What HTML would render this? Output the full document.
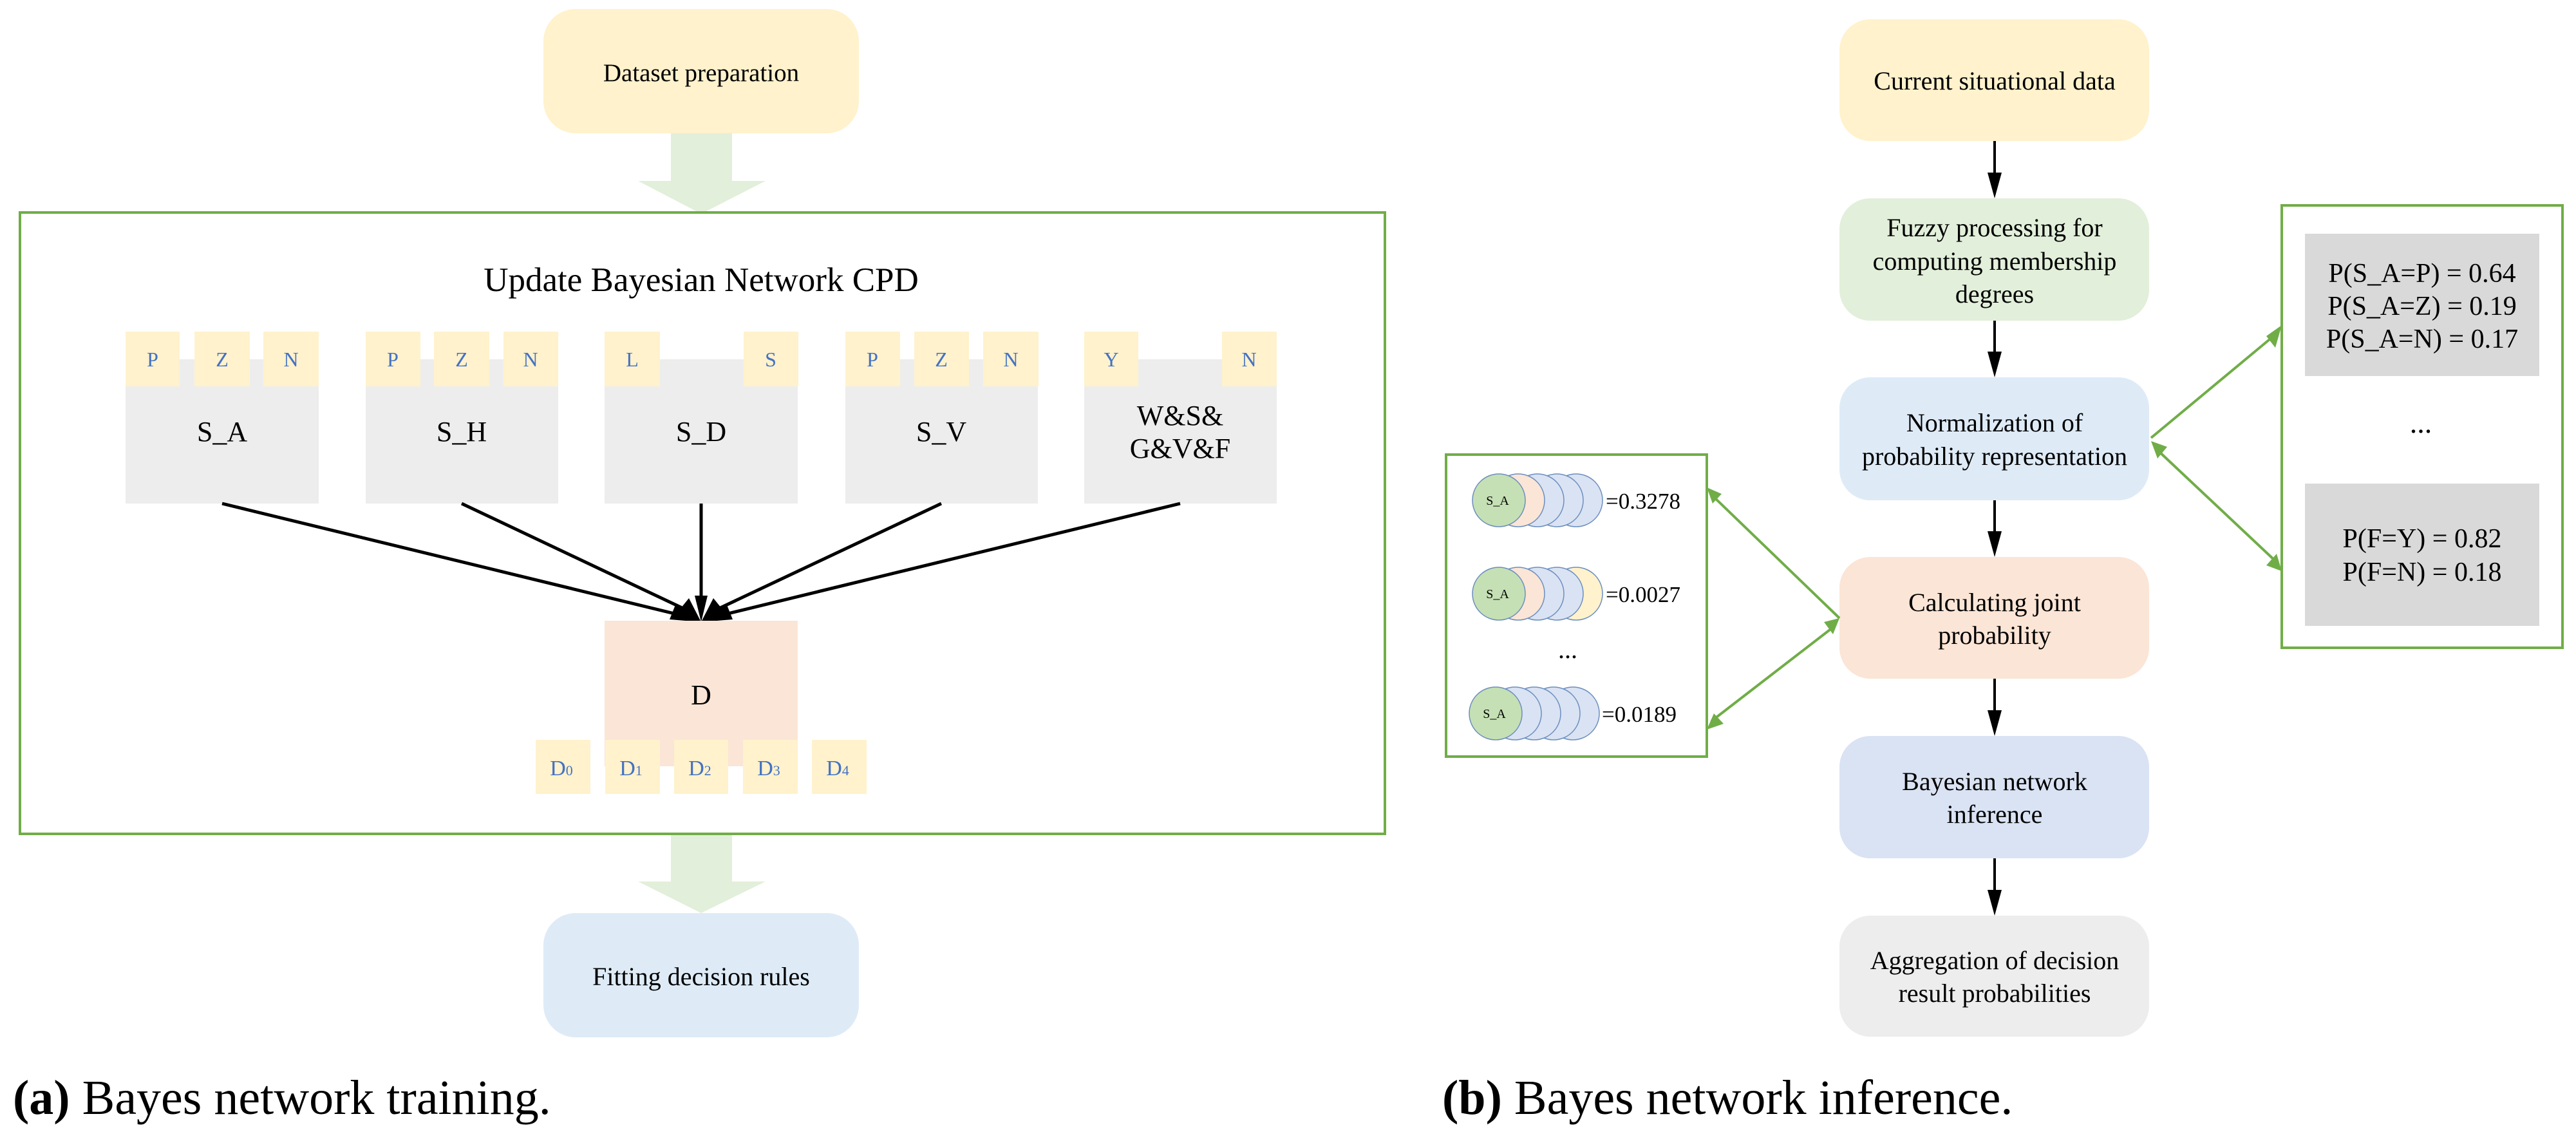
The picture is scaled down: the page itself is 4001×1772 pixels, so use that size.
<!DOCTYPE html>
<html><head><meta charset="utf-8"><style>
html,body{margin:0;padding:0;background:#fff;}
svg{display:block;}
text{font-family:"Liberation Serif",serif;}
</style></head><body>
<svg width="4001" height="1772" viewBox="0 0 4001 1772" xmlns="http://www.w3.org/2000/svg" font-family="Liberation Serif, serif">
<!-- PART A -->
<rect x="844" y="14" width="490" height="193" rx="50" fill="#fff2cc"/>
<text x="1089" y="126" font-size="39" text-anchor="middle">Dataset preparation</text>
<polygon points="1042,207 1137,207 1137,281 1189,281 1089,332 991,281 1042,281" fill="#e2efda"/>
<rect x="31" y="330" width="2120" height="965" fill="none" stroke="#70ad47" stroke-width="4"/>
<text x="1089" y="452" font-size="53" text-anchor="middle">Update Bayesian Network CPD</text>

<g font-size="32" fill="#4472c4" text-anchor="middle">
<rect x="195" y="558" width="300" height="224" fill="#ededed"/>
<rect x="195" y="515" width="84" height="85" fill="#fff2cc"/><text x="237" y="569">P</text>
<rect x="302" y="515" width="86" height="85" fill="#fff2cc"/><text x="345" y="569">Z</text>
<rect x="409" y="515" width="86" height="85" fill="#fff2cc"/><text x="452" y="569">N</text>
<rect x="568" y="558" width="299" height="224" fill="#ededed"/>
<rect x="568" y="515" width="85" height="85" fill="#fff2cc"/><text x="610" y="569">P</text>
<rect x="674" y="515" width="86" height="85" fill="#fff2cc"/><text x="717" y="569">Z</text>
<rect x="782" y="515" width="85" height="85" fill="#fff2cc"/><text x="824" y="569">N</text>
<rect x="939" y="558" width="300" height="224" fill="#ededed"/>
<rect x="939" y="515" width="86" height="85" fill="#fff2cc"/><text x="982" y="569">L</text>
<rect x="1155" y="515" width="85" height="85" fill="#fff2cc"/><text x="1197" y="569">S</text>
<rect x="1313" y="558" width="299" height="224" fill="#ededed"/>
<rect x="1313" y="515" width="85" height="85" fill="#fff2cc"/><text x="1355" y="569">P</text>
<rect x="1420" y="515" width="85" height="85" fill="#fff2cc"/><text x="1462" y="569">Z</text>
<rect x="1527" y="515" width="86" height="85" fill="#fff2cc"/><text x="1570" y="569">N</text>
<rect x="1684" y="558" width="299" height="224" fill="#ededed"/>
<rect x="1684" y="515" width="84" height="85" fill="#fff2cc"/><text x="1726" y="569">Y</text>
<rect x="1898" y="515" width="85" height="85" fill="#fff2cc"/><text x="1940" y="569">N</text>
</g>
<g font-size="44" text-anchor="middle">
<text x="345" y="685">S_A</text>
<text x="717" y="685">S_H</text>
<text x="1089" y="685">S_D</text>
<text x="1462" y="685">S_V</text>
<text x="1833" y="660">W&amp;S&amp;</text>
<text x="1833" y="711">G&amp;V&amp;F</text>
</g>
<g stroke="#000" stroke-width="5">
<line x1="345" y1="782" x2="1060" y2="956"/>
<line x1="717" y1="782" x2="1072" y2="950"/>
<line x1="1089" y1="782" x2="1089" y2="935"/>
<line x1="1462" y1="782" x2="1106" y2="950"/>
<line x1="1833" y1="782" x2="1118" y2="956"/>
</g>
<g fill="#000">
<polygon points="1089,966 1040,962 1050,937"/>
<polygon points="1089,966 1057,945 1070,929"/>
<polygon points="1089,966 1079,925 1099,925"/>
<polygon points="1089,966 1108,929 1121,945"/>
<polygon points="1089,966 1128,937 1138,962"/>
</g>
<rect x="939" y="964" width="300" height="226" fill="#fbe5d6"/>
<text x="1089" y="1094" font-size="44" text-anchor="middle">D</text>
<g font-size="34" fill="#4472c4" text-anchor="middle">
<rect x="832" y="1149" width="85" height="84" fill="#fff2cc"/><text x="872" y="1204">D<tspan font-size="22">0</tspan></text>
<rect x="940" y="1149" width="85" height="84" fill="#fff2cc"/><text x="980" y="1204">D<tspan font-size="22">1</tspan></text>
<rect x="1047" y="1149" width="84" height="84" fill="#fff2cc"/><text x="1087" y="1204">D<tspan font-size="22">2</tspan></text>
<rect x="1154" y="1149" width="85" height="84" fill="#fff2cc"/><text x="1194" y="1204">D<tspan font-size="22">3</tspan></text>
<rect x="1261" y="1149" width="85" height="84" fill="#fff2cc"/><text x="1301" y="1204">D<tspan font-size="22">4</tspan></text>
</g>
<polygon points="1042,1297 1137,1297 1137,1369 1189,1369 1089,1418 991,1369 1042,1369" fill="#e2efda"/>
<rect x="844" y="1418" width="490" height="193" rx="50" fill="#deebf7"/>
<text x="1089" y="1530" font-size="40" text-anchor="middle">Fitting decision rules</text>
<text x="20" y="1730" font-size="76"><tspan font-weight="bold">(a)</tspan> Bayes network training.</text>

<!-- PART B -->
<g font-size="40" text-anchor="middle">
<rect x="2857" y="30" width="481" height="189" rx="48" fill="#fff2cc"/>
<text x="3098" y="139">Current situational data</text>
<rect x="2857" y="308" width="481" height="190" rx="48" fill="#e2efda"/>
<text x="3098" y="367">Fuzzy processing for</text>
<text x="3098" y="419">computing membership</text>
<text x="3098" y="470">degrees</text>
<rect x="2857" y="586" width="481" height="191" rx="48" fill="#deebf7"/>
<text x="3098" y="670">Normalization of</text>
<text x="3098" y="722">probability representation</text>
<rect x="2857" y="865" width="481" height="189" rx="48" fill="#fbe5d6"/>
<text x="3098" y="949">Calculating joint</text>
<text x="3098" y="1000">probability</text>
<rect x="2857" y="1143" width="481" height="190" rx="48" fill="#dae3f3"/>
<text x="3098" y="1227">Bayesian network</text>
<text x="3098" y="1278">inference</text>
<rect x="2857" y="1422" width="481" height="188" rx="48" fill="#ededed"/>
<text x="3098" y="1505">Aggregation of decision</text>
<text x="3098" y="1556">result probabilities</text>
</g>
<g stroke="#000" stroke-width="4">
<line x1="3098" y1="219" x2="3098" y2="270"/>
<line x1="3098" y1="498" x2="3098" y2="548"/>
<line x1="3098" y1="777" x2="3098" y2="827"/>
<line x1="3098" y1="1054" x2="3098" y2="1105"/>
<line x1="3098" y1="1333" x2="3098" y2="1384"/>
</g>
<g fill="#000">
<polygon points="3087,268 3109,268 3098,308"/>
<polygon points="3087,546 3109,546 3098,586"/>
<polygon points="3087,825 3109,825 3098,865"/>
<polygon points="3087,1103 3109,1103 3098,1143"/>
<polygon points="3087,1382 3109,1382 3098,1422"/>
</g>
<rect x="3544" y="319" width="436" height="687" fill="none" stroke="#70ad47" stroke-width="4"/>
<rect x="3580" y="363" width="364" height="221" fill="#d9d9d9"/>
<rect x="3580" y="751" width="364" height="221" fill="#d9d9d9"/>
<g font-size="42" text-anchor="middle">
<text x="3762" y="438">P(S_A=P) = 0.64</text>
<text x="3762" y="489">P(S_A=Z) = 0.19</text>
<text x="3762" y="540">P(S_A=N) = 0.17</text>
<text x="3760" y="672" font-size="46">...</text>
<text x="3762" y="850">P(F=Y) = 0.82</text>
<text x="3762" y="902">P(F=N) = 0.18</text>
</g>
<rect x="2246" y="706" width="405" height="469" fill="none" stroke="#70ad47" stroke-width="4"/>
<g stroke="#6c8ebf" stroke-width="1.5">
<ellipse cx="2448" cy="777" rx="41" ry="41" fill="#dae3f3"/>
<ellipse cx="2418" cy="777" rx="41" ry="41" fill="#dae3f3"/>
<ellipse cx="2388" cy="777" rx="41" ry="41" fill="#dae3f3"/>
<ellipse cx="2358" cy="777" rx="41" ry="41" fill="#fbe5d6"/>
<ellipse cx="2328" cy="777" rx="41" ry="41" fill="#c5e0b4"/>
<ellipse cx="2448" cy="922" rx="41" ry="41" fill="#fff2cc"/>
<ellipse cx="2418" cy="922" rx="41" ry="41" fill="#dae3f3"/>
<ellipse cx="2388" cy="922" rx="41" ry="41" fill="#dae3f3"/>
<ellipse cx="2358" cy="922" rx="41" ry="41" fill="#fbe5d6"/>
<ellipse cx="2328" cy="922" rx="41" ry="41" fill="#c5e0b4"/>
<ellipse cx="2443" cy="1108" rx="41" ry="41" fill="#dae3f3"/>
<ellipse cx="2413" cy="1108" rx="41" ry="41" fill="#dae3f3"/>
<ellipse cx="2383" cy="1108" rx="41" ry="41" fill="#dae3f3"/>
<ellipse cx="2353" cy="1108" rx="41" ry="41" fill="#dae3f3"/>
<ellipse cx="2323" cy="1108" rx="41" ry="41" fill="#c5e0b4"/>
</g>
<g font-size="20" text-anchor="middle">
<text x="2326" y="784">S_A</text>
<text x="2326" y="929">S_A</text>
<text x="2321" y="1115">S_A</text>
</g>
<g font-size="35">
<text x="2494" y="790">=0.3278</text>
<text x="2494" y="935">=0.0027</text>
<text x="2488" y="1121">=0.0189</text>
<text x="2435" y="1022" font-size="40" text-anchor="middle">...</text>
</g>
<g stroke="#70ad47" stroke-width="4">
<line x1="3341" y1="680" x2="3536" y2="518"/>
<line x1="3352" y1="700" x2="3536" y2="873"/>
<line x1="2857" y1="960" x2="2660" y2="770"/>
<line x1="2846" y1="975" x2="2658" y2="1120"/>
</g>
<g fill="#70ad47">
<polygon points="3544,505 3520,522 3534,540"/>
<polygon points="3544,887 3520,878 3536,860"/>
<polygon points="3341,685 3366,694 3351,712"/>
<polygon points="2651,757 2674,767 2660,782"/>
<polygon points="2651,1133 2662,1108 2677,1124"/>
<polygon points="2857,960 2833,966 2847,985"/>
</g>
<text x="2240" y="1730" font-size="76"><tspan font-weight="bold">(b)</tspan> Bayes network inference.</text>
</svg>
</body></html>
